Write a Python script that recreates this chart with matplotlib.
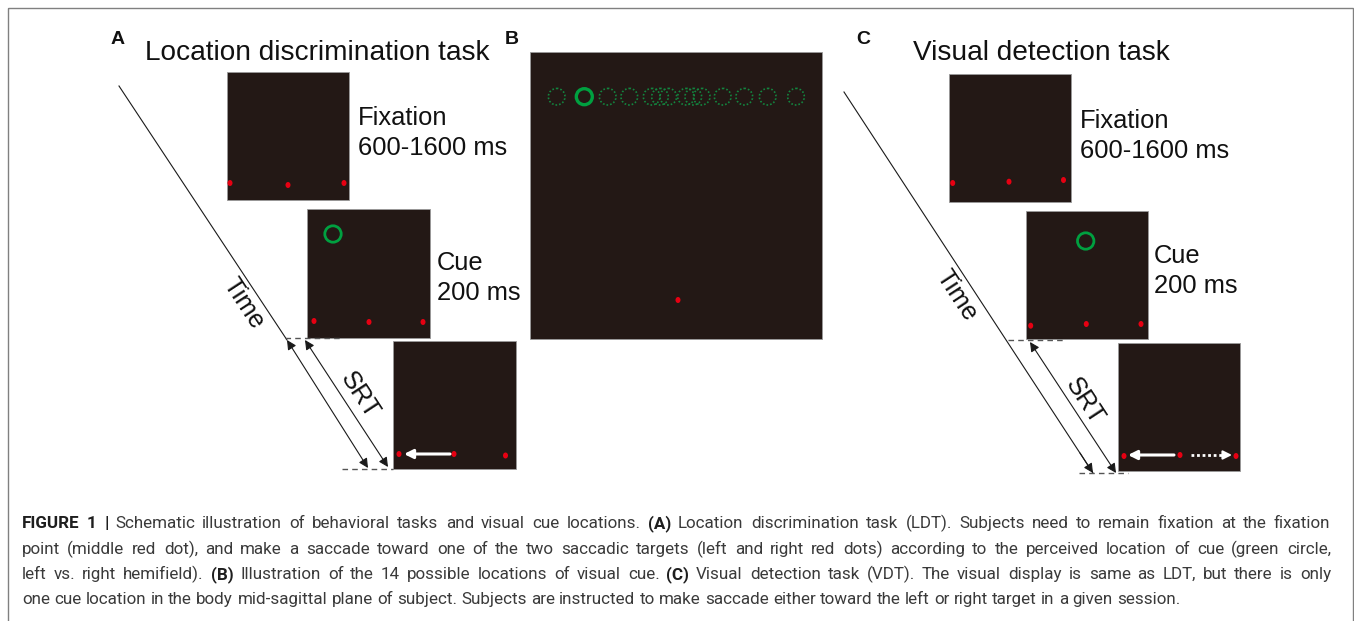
import matplotlib
matplotlib.use('Agg')
import matplotlib.pyplot as plt
from matplotlib.patches import Rectangle, Circle, Ellipse
from matplotlib import font_manager as fm

# ---------------- content ----------------
panel_labels = ['A', 'B', 'C']
task_titles = ['Location discrimination task', 'Visual detection task']
epoch_names = ['Fixation', 'Cue']
epoch_durations = ['600-1600 ms', '200 ms']
axis_labels = ['Time', 'SRT']
# panel B: horizontal screen positions of the 14 possible cue locations
cue_locations_x = [556.7, 584.3, 607.7, 629.3, 651.7, 660.0, 668.3,
                   686.0, 693.3, 701.7, 722.7, 744.3, 767.7, 796.0]
highlighted_cue = 1

caption_lines = [
    [("FIGURE 1 |", True),
     ("Schematic illustration of behavioral tasks and visual cue locations.", False),
     ("(A)", True),
     ("Location discrimination task (LDT). Subjects need to remain fixation at the fixation", False)],
    [("point (middle red dot), and make a saccade toward one of the two saccadic targets "
      "(left and right red dots) according to the perceived location of cue (green circle,", False)],
    [("left vs. right hemifield).", False), ("(B)", True),
     ("Illustration of the 14 possible locations of visual cue.", False), ("(C)", True),
     ("Visual detection task (VDT). The visual display is same as LDT, but there is only", False)],
    [("one cue location in the body mid-sagittal plane of subject. Subjects are instructed "
      "to make saccade either toward the left or right target in a given session.", False)],
]

# ---------------- style ----------------
BOX = '#231815'
RED = '#e60012'
GREEN = '#00a040'
DGREEN = '#13853f'
LINE = '#1a1a1a'


def available(name):
    try:
        fm.findfont(fm.FontProperties(family=name), fallback_to_default=False)
        return True
    except Exception:
        return False


MAIN_FONT = 'Liberation Sans' if available('Liberation Sans') else 'DejaVu Sans'
CAP_FONT = 'Roboto' if available('Roboto') else MAIN_FONT

W, H = 1354, 621
fig = plt.figure(figsize=(W / 100, H / 100), dpi=100)
ax = fig.add_axes([0, 0, 1, 1])
ax.set_xlim(0, W)
ax.set_ylim(H, 0)
ax.axis('off')

# outer frame
ax.add_patch(Rectangle((7.5, 7.5), 1345, 700, fill=False, edgecolor='#808080', lw=1.0))


def screen(x0, y0, w, h):
    ax.add_patch(Rectangle((x0, y0), w, h, facecolor=BOX, edgecolor='#9a9a9a', lw=0.6, zorder=2))


def dot(x, y):
    ax.add_patch(Ellipse((x, y), 5.0, 6.0, facecolor=RED, edgecolor='none', zorder=4))


def arrow(x0, y0, x1, y1, style='-|>', color=LINE, lw=0.8, ms=14, z=5):
    ax.annotate('', xy=(x1, y1), xytext=(x0, y0),
                arrowprops=dict(arrowstyle=style, color=color, lw=lw,
                                mutation_scale=ms, shrinkA=0, shrinkB=0),
                zorder=z)


def label_text(x, y, s, size, **kw):
    ax.text(x, y, s, fontsize=size, family=MAIN_FONT, color='#111111', **kw)


ROT = -56.8
TITLE_FS = 20.2
EPOCH_FS = 18.4
LETTER_FS = 14

# ================= Panel A =================
label_text(111, 44, panel_labels[0], LETTER_FS, fontweight='bold', va='baseline')
label_text(145, 60, task_titles[0], TITLE_FS, va='baseline')

screen(227, 72, 122, 128)
for x, y in [(230, 183), (288, 185), (344, 183)]:
    dot(x, y)
label_text(358, 125, epoch_names[0], EPOCH_FS, va='baseline')
label_text(358, 155, epoch_durations[0], EPOCH_FS, va='baseline')

screen(307, 209, 123, 129)
ax.add_patch(Circle((333, 234), 8.2, fill=False, edgecolor=GREEN, lw=2.0, zorder=4))
for x, y in [(314, 321), (369, 322), (423, 322)]:
    dot(x, y)
label_text(437, 270, epoch_names[1], EPOCH_FS, va='baseline')
label_text(437, 300, epoch_durations[1], EPOCH_FS, va='baseline')

screen(393, 341, 123, 128)
for x, y in [(399, 454), (454, 454), (505.5, 455.5)]:
    dot(x, y)
arrow(450, 454, 404, 454, color='white', lw=2.2, ms=13)

# time axis and SRT
ax.plot([119, 287], [86, 340], color=LINE, lw=0.8, zorder=3)
arrow(287, 340, 368, 468, style='<|-|>')
arrow(305, 340, 388, 467, style='<|-|>')
ax.plot([285, 342], [338, 338], color='#555555', lw=1.0, ls=(0, (4, 3)), zorder=3)
ax.plot([342, 393], [469, 469], color='#555555', lw=1.0, ls=(0, (4, 3)), zorder=3)
label_text(243, 303, axis_labels[0], EPOCH_FS, rotation=ROT, rotation_mode='anchor',
           ha='center', va='center')
label_text(360, 395, axis_labels[1], EPOCH_FS, rotation=ROT, rotation_mode='anchor',
           ha='center', va='center')

# ================= Panel B =================
label_text(505, 44, panel_labels[1], LETTER_FS, fontweight='bold', va='baseline')
screen(530, 52, 292, 287)
for i, cx in enumerate(cue_locations_x):
    if i == highlighted_cue:
        ax.add_patch(Circle((cx, 96.7), 8.0, fill=False, edgecolor=GREEN, lw=2.4, zorder=5))
    else:
        ax.add_patch(Circle((cx, 96.7), 8.3, fill=False, edgecolor=DGREEN, lw=1.2,
                            ls=(0, (1, 1.2)), zorder=4))
dot(678, 300)

# ================= Panel C =================
label_text(856, 44, panel_labels[2], LETTER_FS, fontweight='bold', va='baseline')
label_text(913, 60, task_titles[1], TITLE_FS, va='baseline')

screen(949, 74, 122, 128)
for x, y in [(952.7, 183), (1009, 181.7), (1063.5, 180)]:
    dot(x, y)
label_text(1080, 128, epoch_names[0], EPOCH_FS, va='baseline')
label_text(1080, 158, epoch_durations[0], EPOCH_FS, va='baseline')

screen(1026, 211, 122, 128)
ax.add_patch(Circle((1085.7, 241), 8.2, fill=False, edgecolor=GREEN, lw=2.0, zorder=4))
for x, y in [(1030.7, 325.7), (1086.3, 324), (1141, 324)]:
    dot(x, y)
label_text(1154, 263, epoch_names[1], EPOCH_FS, va='baseline')
label_text(1154, 293, epoch_durations[1], EPOCH_FS, va='baseline')

screen(1118, 343, 122, 128)
for x, y in [(1124, 456), (1180, 455), (1236, 456)]:
    dot(x, y)
arrow(1174, 455, 1128, 455, color='white', lw=2.2, ms=13)
ax.plot([1191, 1226], [455, 455], color='white', lw=2.0, ls=(0, (1, 1)), zorder=5)
arrow(1224, 455, 1232, 455, color='white', lw=1.5, ms=13)

ax.plot([844, 1093], [92, 473], color=LINE, lw=0.8, zorder=3)
arrow(1080, 453, 1093, 473, style='-|>')
arrow(1030, 342, 1116, 473, style='<|-|>')
ax.plot([1008, 1063], [340, 340], color='#555555', lw=1.0, ls=(0, (4, 3)), zorder=3)
ax.plot([1079, 1128], [473, 473], color='#555555', lw=1.0, ls=(0, (4, 3)), zorder=3)
label_text(956.7, 295, axis_labels[0], EPOCH_FS, rotation=ROT, rotation_mode='anchor',
           ha='center', va='center')
label_text(1085, 401.7, axis_labels[1], EPOCH_FS, rotation=ROT, rotation_mode='anchor',
           ha='center', va='center')

# ================= Caption (justified) =================
CAP_X0, CAP_X1 = 22, 1331
LAST_LINE_END = 1177
baselines = [528, 554, 579, 604]
fig.canvas.draw()
renderer = fig.canvas.get_renderer()


def make_words(fs):
    out = []
    for segs in caption_lines:
        objs = []
        for s, b in segs:
            for w in s.split(' '):
                if w:
                    t = ax.text(0, 0, w, fontsize=fs, family=CAP_FONT,
                                fontweight='bold' if b else 'normal',
                                color='#1e1e1e' if b else '#3a3a3a', va='baseline')
                    objs.append(t)
        out.append(objs)
    return out


def widths(objs):
    return [o.get_window_extent(renderer).width for o in objs]


def space_width(fs):
    p1 = ax.text(0, 0, 'x x', fontsize=fs, family=CAP_FONT)
    p2 = ax.text(0, 0, 'xx', fontsize=fs, family=CAP_FONT)
    s = p1.get_window_extent(renderer).width - p2.get_window_extent(renderer).width
    p1.remove(); p2.remove()
    return s


# choose a size so that the (unjustified) last line ends where it does in the figure
fs = 12.0
words = make_words(fs)
natural = sum(widths(words[-1])) + space_width(fs) * (len(words[-1]) - 1)
scale = (LAST_LINE_END - CAP_X0) / natural
for objs in words:
    for o in objs:
        o.remove()
fs = round(max(10.5, min(13.5, fs * scale)) * 4) / 4
words = make_words(fs)
space = space_width(fs)

for li, objs in enumerate(words):
    ws = widths(objs)
    if li < len(words) - 1:
        gap = (CAP_X1 - CAP_X0 - sum(ws)) / (len(ws) - 1)
    else:
        gap = space
    x = CAP_X0
    for o, w in zip(objs, ws):
        o.set_position((round(x), baselines[li]))
        x += w + gap

fig.savefig('out.png', dpi=100, facecolor='white')
